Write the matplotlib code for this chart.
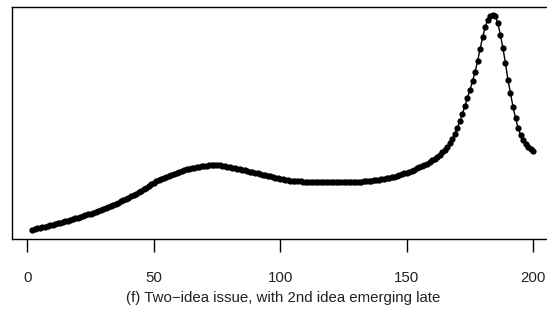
import numpy as np
import matplotlib
matplotlib.use("Agg")
import matplotlib.pyplot as plt

plt.rcParams['font.family'] = ['Liberation Sans', 'DejaVu Sans']

# time steps 2..200, attention level (arbitrary units)
steps = np.arange(2, 201)
level = [
    10.5, 11.1, 11.6, 12.2, 12.8, 13.4, 14.0, 14.7, 15.4,          # 2-10
    16.0, 16.7, 17.3, 18.0, 18.7, 19.4, 20.1, 20.9, 21.6, 22.4,    # 11-20
    23.2, 24.0, 24.8, 25.7, 26.5, 27.4, 28.3, 29.2, 30.1, 31.0,    # 21-30
    32.0, 33.0, 34.1, 35.1, 36.2, 37.4, 38.6, 39.8, 41.0, 42.2,    # 31-40
    43.6, 45.0, 46.4, 47.8, 49.2, 50.8, 52.5, 54.2, 55.8, 57.5,    # 41-50
    58.9, 60.2, 61.4, 62.5, 63.5, 64.5, 65.5, 66.5, 67.5, 68.5,    # 51-60
    69.3, 70.0, 70.7, 71.4, 72.0, 72.5, 73.0, 73.4, 73.8, 74.2,    # 61-70
    74.5, 74.8, 75.0, 75.0, 74.8, 74.6, 74.3, 74.0, 73.5, 73.0,    # 71-80
    72.5, 72.0, 71.5, 70.9, 70.3, 69.7, 69.1, 68.4, 67.8, 67.2,    # 81-90
    66.6, 66.0, 65.4, 64.8, 64.2, 63.6, 63.0, 62.5, 61.8, 61.2,    # 91-100
    60.7, 60.2, 59.8, 59.5, 59.2, 59.0, 58.8, 58.7, 58.5, 58.4,    # 101-110
    58.3, 58.2, 58.1, 58.0, 58.0, 57.9, 57.9, 57.8, 57.8, 57.8,    # 111-120
    57.8, 57.8, 57.8, 57.8, 57.8, 57.9, 57.9, 58.0, 58.1, 58.2,    # 121-130
    58.4, 58.5, 58.7, 58.9, 59.2, 59.5, 59.8, 60.1, 60.5, 60.9,    # 131-140
    61.3, 61.8, 62.3, 62.9, 63.5, 64.2, 64.9, 65.7, 66.6, 67.5,    # 141-150
    68.5, 69.5, 70.5, 71.7, 72.7, 73.7, 75.0, 76.5, 78.0, 79.7,    # 151-160
    81.5, 83.3, 85.5, 87.7, 90.0, 93.0, 96.5, 100.5, 106.0, 112.0, # 161-170
    119.0, 126.0, 134.0, 142.0, 150.0, 159.0, 168.0, 179.0, 191.0, 203.0,  # 171-180
    213.0, 220.0, 224.0, 225.0, 223.5, 217.0, 205.0, 192.0, 177.0, 160.0,  # 181-190
    147.0, 133.0, 122.0, 112.0, 105.0, 100.0, 96.0, 93.0, 91.0, 89.0,      # 191-200
]
xticks = [0, 50, 100, 150, 200]
caption = "(f) Two\u2212idea issue, with 2nd idea emerging late"

fig = plt.figure(figsize=(5.47, 3.14), dpi=100)
# plot box runs past the right edge of the picture, as in the original
ax = fig.add_axes([12.3 / 547, 75.3 / 314, 541 / 547, 231.4 / 314])

ax.plot(steps, level, color='black', lw=1.0, marker='o', ms=4.5,
        markeredgewidth=0)

ax.set_xlim(-5.92, 207.92)
ax.set_ylim(1.3, 232.7)
ax.set_yticks([])
ax.set_xticks(xticks)
ax.set_xticklabels([str(t) for t in xticks])
ax.tick_params(axis='x', length=9.5, width=1.0, pad=14, labelsize=10.8,
               labelcolor='#222222')
for s in ax.spines.values():
    s.set_linewidth(1.0)

ax.set_xlabel(caption, fontsize=10.8, labelpad=4, color='#222222')

fig.savefig("out.png", dpi=100)
